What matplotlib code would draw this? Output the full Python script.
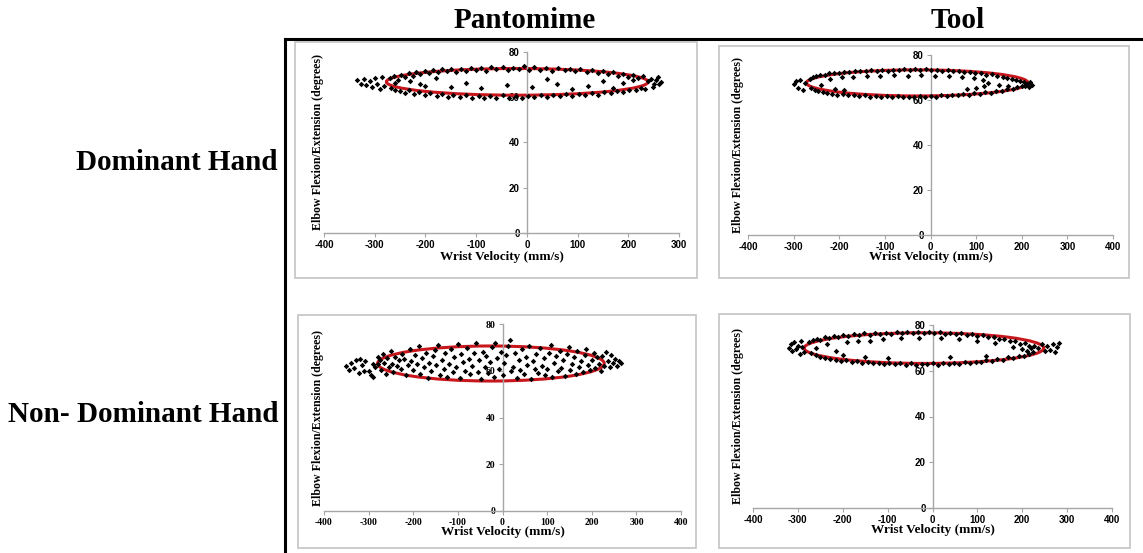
import matplotlib
matplotlib.use("Agg")
import matplotlib.pyplot as plt
from matplotlib.patches import Ellipse, Rectangle
from matplotlib.lines import Line2D

plt.rcParams["axes.unicode_minus"] = False

W, H = 1143, 553

col_titles = ["Pantomime", "Tool"]
row_titles = ["Dominant Hand", "Non- Dominant Hand"]

x_label = "Wrist Velocity (mm/s)"
y_label = "Elbow Flexion/Extension (degrees)"
y_ticks = [0, 20, 40, 60, 80]
x_ticks_short = [-400, -300, -200, -100, 0, 100, 200, 300]
x_ticks_full = [-400, -300, -200, -100, 0, 100, 200, 300, 400]

# (wrist velocity, elbow angle) samples per condition
dom_pant_pts = [
    (-335, 67.5), (-328, 66), (-322, 68), (-318, 65.5), (-310, 67), (-305, 64.5), (-300, 68.5),
    (-296, 66), (-290, 63.5), (-286, 69), (-282, 65),
    (-270, 68.5), (-262, 69.5), (-255, 67.8), (-248, 70), (-240, 69), (-232, 70.8), (-225, 69.5),
    (-218, 71), (-210, 70.2), (-200, 71.5), (-192, 70.5), (-185, 72), (-176, 71), (-168, 72.3),
    (-158, 71.5), (-150, 72.6), (-140, 71.2), (-130, 72.5), (-120, 71.8), (-110, 73), (-100, 72),
    (-90, 72.8), (-80, 71.6), (-70, 73.2), (-60, 72.3), (-48, 73.5), (-38, 72), (-28, 73),
    (-15, 72.4), (-5, 73.6), (5, 72.2), (15, 73.4), (25, 72), (38, 72.8), (50, 71.6), (62, 72.9),
    (75, 72), (85, 72.6), (95, 71.4), (105, 72.4), (118, 71.2), (128, 72), (140, 70.8), (150, 71.6),
    (160, 70.2), (170, 71), (180, 69.6), (190, 70.4), (200, 69), (210, 69.8), (220, 68.4), (230, 69.5),
    (238, 67), (245, 68.2), (250, 66), (255, 67.5), (260, 65.8), (265, 66.8), (248, 64.5), (258, 69),
    (-268, 64), (-260, 63), (-250, 62.8), (-240, 62), (-232, 63.2), (-222, 61.5), (-212, 62.4),
    (-200, 61), (-190, 62), (-178, 60.6), (-168, 61.5), (-155, 60.2), (-145, 61.2), (-132, 60),
    (-120, 60.8), (-108, 59.8), (-95, 60.6), (-85, 59.6), (-72, 60.4), (-60, 59.8), (-48, 60.8),
    (-35, 59.6), (-22, 60.5), (-10, 59.8), (2, 60.6), (15, 59.9), (28, 61), (40, 60.2), (52, 61.2),
    (65, 60.4), (78, 61.4), (90, 60.6), (102, 61.6), (115, 61), (128, 62), (140, 61.2), (152, 62.4),
    (165, 61.8), (178, 62.8), (190, 62.2), (202, 63.4), (215, 63), (225, 64.2), (232, 63.6),
    (-230, 67), (-210, 66), (-180, 68.5), (-150, 64.5), (-120, 66.5), (-90, 64), (-40, 65.5),
    (10, 64.5), (60, 66), (90, 63.5), (120, 65), (150, 67), (170, 64), (190, 66.5), (210, 67.5),
    (-260, 66.5), (-200, 65), (40, 68),
]

dom_tool_pts = [
    (-300, 67), (-295, 68.5), (-290, 65.5), (-285, 69), (-280, 64.5), (-276, 67.5),
    (-265, 69.2), (-258, 70), (-250, 70.5), (-242, 71), (-232, 71.3), (-222, 71.8), (-212, 72),
    (-200, 72.2), (-190, 72.6), (-178, 72.4), (-166, 72.9), (-154, 73), (-142, 72.7), (-130, 73.2),
    (-118, 73), (-106, 73.4), (-94, 73.1), (-82, 73.5), (-70, 73.2), (-58, 73.6), (-46, 73.3),
    (-34, 73.7), (-22, 73.4), (-10, 73.6), (2, 73.2), (14, 73.5), (26, 73.1), (38, 73.3), (50, 72.8),
    (62, 73), (74, 72.4), (86, 72.6), (98, 71.8), (110, 72), (122, 71.2), (134, 71.4), (146, 70.6),
    (158, 70.4), (168, 69.8), (178, 69.5), (188, 68.8), (196, 68.4), (204, 67.8), (212, 67.2),
    (218, 68), (222, 66.8), (215, 65.6), (208, 66.2),
    (-262, 65.5), (-254, 64.5), (-246, 64), (-236, 63.4), (-226, 63), (-215, 62.8), (-204, 62.4),
    (-192, 62.6), (-180, 62), (-168, 62.3), (-156, 61.7), (-144, 62), (-132, 61.5), (-120, 61.8),
    (-108, 61.4), (-96, 61.7), (-84, 61.3), (-72, 61.6), (-60, 61.2), (-48, 61.5), (-36, 61.4),
    (-24, 61.8), (-12, 61.3), (0, 61.7), (12, 61.5), (24, 62), (36, 61.7), (48, 62.2), (60, 62),
    (72, 62.5), (84, 62.3), (96, 62.9), (108, 62.8), (120, 63.4), (132, 63.3), (144, 64), (156, 64.1),
    (168, 64.8), (180, 65), (190, 65.7), (200, 66.3),
    (-240, 66.5), (-220, 69.5), (-195, 70), (-170, 70.4), (-140, 70.6), (-110, 70.8), (-80, 71),
    (-50, 70.8), (-20, 70.9), (10, 70.7), (40, 70.5), (70, 70.2), (95, 69.8), (115, 69), (125, 67.6),
    (118, 66.2), (100, 65.3), (80, 64.8), (-210, 65), (-190, 64.5), (150, 66.8), (170, 66.3),
]

nondom_pant_pts = [
    (-350, 62), (-345, 60.5), (-340, 63.5), (-332, 61), (-328, 64.5), (-322, 59), (-315, 62.5),
    (-308, 64), (-300, 60), (-295, 58), (-290, 63), (-285, 61.5), (-280, 66), (-278, 62.8),
    (-275, 64.5), (-272, 60.5), (-268, 67), (-265, 63.5), (-262, 58.5), (-258, 65.5), (-255, 61.8),
    (-250, 68.5), (-248, 63), (-245, 59.5), (-240, 66), (-236, 62), (-232, 64.8), (-228, 60.8),
    (-225, 67.2), (-220, 65), (-216, 58), (-212, 62.5), (-208, 69.5), (-205, 64.2), (-200, 60.2),
    (-196, 66.8), (-192, 62.8), (-188, 70.5), (-185, 58.8), (-180, 65.5), (-176, 61.8), (-172, 67.8),
    (-168, 57), (-165, 63.5), (-160, 60), (-156, 66.2), (-152, 68.8), (-148, 62.4), (-144, 71),
    (-140, 58.2), (-136, 64.8), (-132, 60.8), (-128, 67.5), (-124, 57.5), (-120, 63), (-116, 69.2),
    (-112, 59.6), (-108, 65.8), (-104, 61.8), (-100, 71.5), (-96, 57), (-92, 67), (-88, 63.6),
    (-84, 60), (-80, 69.6), (-76, 65.2), (-72, 58.6), (-68, 62.2), (-64, 67.6), (-60, 71.8),
    (-56, 59.6), (-52, 64.4), (-48, 56.6), (-44, 68.2), (-40, 61.4), (-36, 66.4), (-32, 59),
    (-28, 63.8), (-24, 70.2), (-20, 57.4), (-16, 72), (-12, 65.6), (-8, 60.6), (-4, 68), (0, 58.2),
    (4, 63.2), (8, 66.8), (12, 70.4), (16, 73), (20, 59.8), (24, 61.8), (28, 67.4), (32, 57),
    (36, 64.6), (40, 60.2), (44, 69.4), (48, 58.8), (52, 66), (56, 62.6), (60, 70.8), (64, 56.6),
    (68, 64), (72, 60.8), (76, 67), (80, 59.2), (84, 69.8), (88, 62), (92, 65.4), (96, 58),
    (100, 60.6), (104, 67.8), (108, 71), (112, 57.2), (116, 63.4), (120, 66.2), (124, 59.8),
    (128, 68.6), (132, 61.2), (136, 64.8), (140, 57.8), (144, 67), (148, 70), (152, 60.4),
    (156, 62.8), (160, 65.8), (164, 58.6), (168, 68.4), (172, 61.6), (176, 64.2), (180, 59.4),
    (184, 66.6), (188, 69.2), (192, 62.4), (196, 60.2), (200, 64.8), (204, 67.8), (208, 61),
    (212, 65.8), (216, 63), (220, 59.8), (224, 66.4), (228, 62), (232, 68), (236, 64.2), (240, 61.6),
    (244, 66.6), (248, 63.2), (252, 65), (256, 62.2), (260, 64.2), (265, 63.4), (-310, 59.8),
    (-320, 65), (-290, 57.5),
]

nondom_tool_pts = [
    (-320, 70), (-315, 71.5), (-312, 68.5), (-308, 72.5), (-304, 69.5), (-300, 71), (-296, 67.5),
    (-292, 73), (-290, 70.5), (-286, 68),
    (-275, 72.5), (-266, 73.4), (-258, 74), (-250, 73.6), (-240, 74.6), (-230, 74.2), (-220, 75.2),
    (-210, 74.8), (-200, 75.6), (-188, 75.2), (-176, 76), (-164, 75.5), (-152, 76.3), (-140, 75.8),
    (-128, 76.5), (-116, 76), (-104, 76.7), (-92, 76.2), (-80, 76.8), (-68, 76.3), (-56, 77),
    (-44, 76.4), (-32, 76.9), (-20, 76.5), (-8, 77.1), (4, 76.4), (16, 76.8), (28, 76.2), (40, 76.7),
    (52, 76), (64, 76.4), (76, 75.6), (88, 76), (100, 75.2), (112, 75.5), (124, 74.6), (136, 74.9),
    (148, 73.8), (160, 74), (172, 72.9), (184, 73.2), (196, 71.8), (206, 72), (216, 70.8), (226, 71),
    (236, 69.8), (244, 71.5), (250, 68.5), (256, 70.8), (262, 69.2), (268, 71.8), (272, 68.2),
    (278, 70.4), (282, 72),
    (-270, 67.6), (-260, 66.8), (-250, 66.2), (-240, 65.6), (-228, 65.2), (-216, 64.8), (-204, 64.4),
    (-192, 64.6), (-180, 63.8), (-168, 64.2), (-156, 63.4), (-144, 63.8), (-132, 63.2), (-120, 63.6),
    (-108, 62.9), (-96, 63.4), (-84, 62.8), (-72, 63.3), (-60, 62.7), (-48, 63.2), (-36, 62.6),
    (-24, 63.1), (-12, 62.8), (0, 63.4), (12, 62.6), (24, 63.2), (36, 62.9), (48, 63.5), (60, 63),
    (72, 63.7), (84, 63.3), (96, 64), (108, 63.7), (120, 64.5), (132, 64.2), (144, 65), (156, 64.8),
    (168, 65.8), (180, 65.6), (192, 66.6), (204, 66.4), (214, 67.4), (224, 68),
    (-260, 70), (-235, 71.5), (-215, 68.5), (-190, 72.6), (-165, 73), (-140, 73.2), (-110, 73.8),
    (-70, 74.3), (-30, 74.5), (20, 74.4), (60, 74), (100, 73.2), (140, 72), (180, 70.6), (200, 69.5),
    (210, 68.8), (-200, 67), (-150, 66), (-100, 65.5), (40, 65.8), (120, 66.6), (220, 70),
]

# fitted ellipses: centre x, centre y, half width, half height
dom_pant_ellipse = (-19, 66.8, 258, 5.9)
dom_tool_ellipse = (-29, 67.6, 243, 5.8)
nondom_pant_ellipse = (-26, 63.1, 254, 7.5)
nondom_tool_ellipse = (-19, 69.9, 267, 6.7)

SERIF = "Liberation Serif"
SANS = "Liberation Sans"
AXIS_GREY = "#a6a6a6"
FIT_RED = "#c8161d"


def fig_rect(x0, top, x1, bottom):
    # pixel box -> figure fraction [left, bottom, width, height]
    return [x0 / W, 1 - bottom / H, (x1 - x0) / W, (bottom - top) / H]


panels = [
    dict(pts=dom_pant_pts, ell=dom_pant_ellipse, xlim=(-400, 300), xticks=x_ticks_short,
         axes=(324, 52, 679, 233), frame=(295, 42, 697, 278), ylab_x=318, xlab_y=257, tick_font=SANS),
    dict(pts=dom_tool_pts, ell=dom_tool_ellipse, xlim=(-400, 400), xticks=x_ticks_full,
         axes=(748, 55, 1113, 235), frame=(719, 46, 1129, 278), ylab_x=738, xlab_y=257, tick_font=SANS),
    dict(pts=nondom_pant_pts, ell=nondom_pant_ellipse, xlim=(-400, 400), xticks=x_ticks_full,
         axes=(324, 324, 681, 511), frame=(298, 315, 696, 548), ylab_x=318, xlab_y=532, tick_font=SERIF),
    dict(pts=nondom_tool_pts, ell=nondom_tool_ellipse, xlim=(-400, 400), xticks=x_ticks_full,
         axes=(753, 325, 1112, 508), frame=(719, 314, 1130, 548), ylab_x=738, xlab_y=530, tick_font=SANS),
]

fig = plt.figure(figsize=(W / 100, H / 100), dpi=100)
fig.patch.set_facecolor("white")

# outer frame around the grid (open at the bottom)
fig.add_artist(Line2D([285 / W, 1 + 0.01], [1 - 39 / H, 1 - 39 / H], color="black", lw=2.2))
fig.add_artist(Line2D([285 / W, 285 / W], [1 - 39 / H, -0.01], color="black", lw=2.2))

for p in panels:
    fx0, ftop, fx1, fbot = p["frame"]
    fig.add_artist(Rectangle((fx0 / W, 1 - fbot / H), (fx1 - fx0) / W, (fbot - ftop) / H,
                             transform=fig.transFigure, fill=False, ec="#c8c8c8", lw=1.3))

    x0, top, x1, bottom = p["axes"]
    ax = fig.add_axes(fig_rect(x0, top, x1, bottom))
    ax.set_facecolor("none")

    cx, cy, a, b = p["ell"]
    ax.add_patch(Ellipse((cx, cy), 2 * a, 2 * b, fill=False, ec=FIT_RED, lw=2.2, zorder=2))
    xs, ys = zip(*p["pts"])
    ax.scatter(xs, ys, marker="D", s=8, c="black", lw=0, zorder=3)

    ax.set_xlim(*p["xlim"])
    ax.set_ylim(0, 80)
    ax.set_xticks(p["xticks"])
    ax.set_yticks(y_ticks)

    for side in ("top", "right"):
        ax.spines[side].set_visible(False)
    ax.spines["left"].set_position(("data", 0))
    for side in ("left", "bottom"):
        ax.spines[side].set_color(AXIS_GREY)
        ax.spines[side].set_linewidth(1.0)
    ax.tick_params(direction="out", length=3, width=0.8, color=AXIS_GREY, pad=2,
                   labelsize=7)
    for lab in ax.get_xticklabels() + ax.get_yticklabels():
        lab.set_fontfamily(p["tick_font"])
        lab.set_fontweight("bold")

    ax.set_xlabel(x_label, fontfamily=SERIF, fontweight="bold", fontsize=9.5, va="center")
    ax.xaxis.set_label_coords(0.5, (bottom - p["xlab_y"]) / (bottom - top))
    ax.set_ylabel(y_label, fontfamily=SERIF, fontweight="bold", fontsize=8.6, va="center")
    ax.yaxis.set_label_coords((p["ylab_x"] - x0) / (x1 - x0), 0.5)

# column and row headings
for title, xc in zip(col_titles, [525, 958]):
    fig.text(xc / W, 1 - 21 / H, title, ha="center", va="center", fontsize=21,
             fontfamily=SERIF, fontweight="bold")
for title, yc in zip(row_titles, [162, 415]):
    fig.text(278 / W, 1 - yc / H, title, ha="right", va="center", fontsize=21,
             fontfamily=SERIF, fontweight="bold")

fig.savefig("out.png", dpi=100)
